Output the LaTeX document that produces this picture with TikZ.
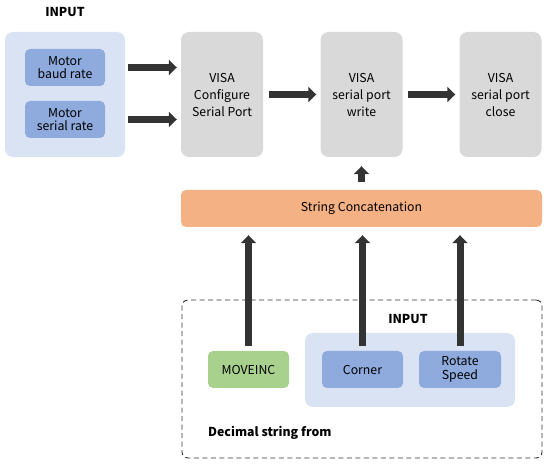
\documentclass[tikz,border=0pt]{standalone}
\usepackage{fontspec}
\setmainfont{Noto Sans CJK SC}
\usetikzlibrary{arrows.meta,positioning}
\definecolor{inbg}{HTML}{DAE3F3}
\definecolor{infld}{HTML}{8FAADC}
\definecolor{visag}{HTML}{D9D9D9}
\definecolor{catorg}{HTML}{F4B183}
\definecolor{movgrn}{HTML}{A9D18E}
\definecolor{arrdk}{HTML}{333333}

\begin{document}
\begin{tikzpicture}[x=1pt,y=-1pt,
  grp/.style={rounded corners=8pt,fill=inbg,inner sep=0pt},
  fld/.style={rounded corners=5pt,fill=infld,minimum width=80pt,minimum height=37pt,
              font=\fontsize{12.3}{13.5}\selectfont,align=center,inner sep=0pt},
  visa/.style={rounded corners=8pt,fill=visag,minimum width=82pt,minimum height=125pt,
               font=\fontsize{12.3}{17}\selectfont,align=center,inner sep=0pt},
  lbl/.style={font=\fontsize{12.3}{14}\selectfont\bfseries,inner sep=0pt},
  arr/.style={arrdk,line width=7pt,-{Triangle[length=8pt,width=15pt]}}]
\useasboundingbox (0,0) rectangle (550,465);
\node[lbl] (intop) at (65,12) {INPUT};
\node[grp,minimum width=120pt,minimum height=125pt] (inL) at (65,94.5) {};
\node[fld] (baud)   at (65,67.5)  {Motor\\baud rate};
\node[fld] (serial) at (65,119.5) {Motor\\serial rate};
\node[visa] (conf)  at (222,94.5)   {VISA\\Configure\\Serial Port};
\node[visa] (write) at (361.5,94.5) {VISA\\serial port\\write};
\node[visa] (close) at (500.5,94.5) {VISA\\serial port\\close};
\node[rounded corners=5pt,fill=catorg,minimum width=361pt,minimum height=37pt,
      font=\fontsize{12.3}{14}\selectfont,inner sep=0pt] (concat) at (361.5,208.5) {String Concatenation};
% decimal string group
\node[draw=arrdk,dash pattern=on 5pt off 3.5pt,line width=0.9pt,rounded corners=6pt,
      minimum width=360pt,minimum height=158pt,inner sep=0pt] (dec) at (362,379) {};
\node[lbl] (inbot) at (408,319) {INPUT};
\node[grp,minimum width=210pt,minimum height=74pt] (inB) at (410,370) {};
\node[fld,fill=movgrn,minimum width=81pt] (move) at (248.5,369.5) {MOVEINC};
\node[fld,minimum width=81pt] (corner) at (362.5,369.5) {Corner};
\node[fld,minimum width=82pt] (rot) at (460,369.5) {Rotate\\Speed};
\node[lbl,anchor=west] (decl) at (208,433) {Decimal string from};
% arrows
\draw[arr,shorten <=3pt,shorten >=4pt] (baud -| inL.east) -- (baud -| conf.west);
\draw[arr,shorten <=3pt,shorten >=4pt] (serial -| inL.east) -- (serial -| conf.west);
\draw[arr,shorten <=6pt,shorten >=4pt] (conf) -- (write);
\draw[arr,shorten <=5pt,shorten >=4pt] (write) -- (close);
\draw[arr,shorten <=8pt,shorten >=9pt] (concat.north -| write) -- (write.south);
\draw[arr,shorten <=5pt,shorten >=8pt] (move.north) -- (move.north |- concat.south);
\draw[arr,shorten <=5pt,shorten >=8pt] (corner.north) -- (corner.north |- concat.south);
\draw[arr,shorten <=5pt,shorten >=8pt] (rot.north) -- (rot.north |- concat.south);
\end{tikzpicture}
\end{document}
